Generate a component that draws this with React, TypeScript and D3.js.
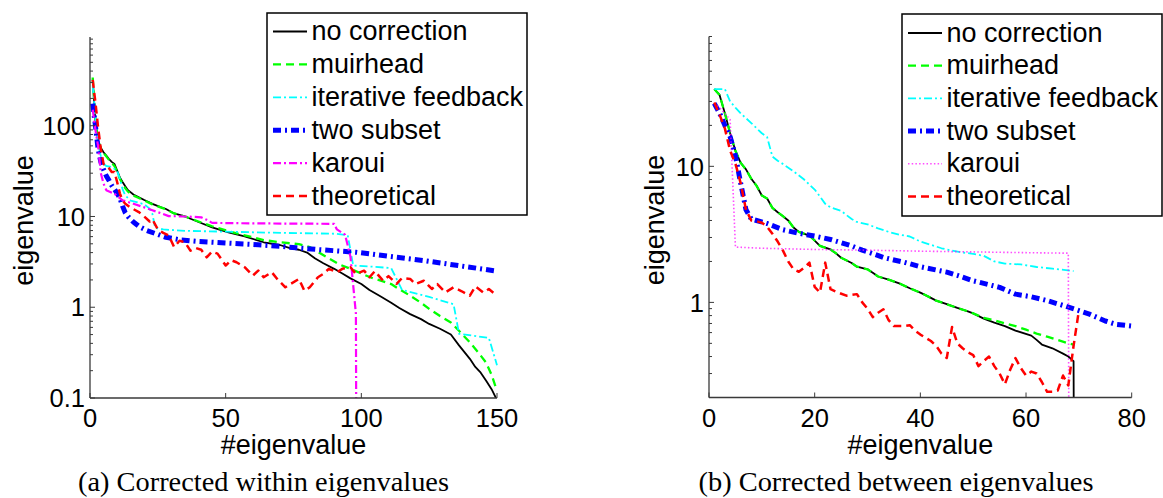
import * as d3 from "d3";

type Pt = [number, number];

const legendLabels = ["no correction", "muirhead", "iterative feedback", "two subset", "karoui", "theoretical"];

// (a) corrected within eigenvalues: [eigenvalue index, eigenvalue]
const withinNoCorrection: Pt[] = [[1,330],[2,110],[3,68],[4,57],[5,51],[6,47],[7,43],[8,40],[9,38],[10,32],[11,27],[12,24],[13,21.5],[14,19.5],[16,17.5],[18,16.3],[20,15.2],[23,13.8],[26,12.7],[28,12.1],[31,10.8],[35,10],[40,8.7],[45,7.6],[51,6.7],[57,6.05],[64,5.2],[70,4.85],[74,4.45],[77,4.3],[80,4.0],[83,3.45],[86,3.05],[90,2.65],[93,2.35],[96,2.08],[100,1.8],[103,1.55],[107,1.32],[111,1.12],[114,0.98],[118,0.84],[122,0.74],[125,0.655],[129,0.58],[133,0.5],[136,0.38],[138,0.32],[140,0.27],[142,0.22],[144,0.19],[146,0.155],[148,0.125],[150,0.095]];
const withinMuirhead: Pt[] = [[1,340],[2,115],[3,68],[4,56],[5,50],[6,46],[7,42],[8,39],[9,36],[10,31],[11,26],[12,23],[13,20.5],[14,18.8],[16,17],[18,16],[20,15],[23,13.6],[26,12.6],[28,12],[31,10.8],[35,10],[40,8.8],[45,7.8],[51,6.9],[57,6.2],[64,5.5],[70,5.2],[77,4.95],[81,4.6],[85,3.9],[88,3.45],[92,2.95],[96,2.65],[100,2.35],[104,2.1],[108,1.93],[111,1.8],[114,1.58],[118,1.34],[122,1.12],[125,0.96],[129,0.8],[133,0.68],[136,0.55],[140,0.41],[143,0.32],[146,0.245],[148,0.18],[150,0.12]];
const withinIterative: Pt[] = [[1,280],[2,120],[3,62],[4,46],[5,38],[6,36],[8,35],[10,32],[11,26],[12,20],[13,17],[15,15],[18,14.2],[20,13.6],[22,12.2],[23,10.7],[24,7.5],[27,7.2],[35,6.95],[50,6.8],[65,6.65],[77,6.55],[91,6.45],[95,6.2],[97,2.88],[104,2.8],[111,2.7],[115,1.55],[125,1.3],[134,1.08],[136,0.51],[147,0.46],[150,0.23]];
const withinTwoSubset: Pt[] = [[1,175],[2,100],[3,55],[4,40],[5,33],[6,28],[7,25],[8,22],[9,20],[10,18],[11,16],[12,13],[13,11],[14,10],[16,8.7],[18,7.8],[21,7.0],[24,6.5],[28,5.9],[33,5.55],[40,5.3],[45,5.2],[55,5.0],[62,4.88],[70,4.7],[76,4.52],[85,4.3],[98,4.04],[110,3.65],[123,3.27],[135,2.9],[150,2.5]];
const withinKaroui: Pt[] = [[1,150],[2,90],[3,59],[4,30],[5,23],[6,19.5],[9,17.8],[12,15.1],[16,13.8],[20,12.6],[23,11.7],[26,10.9],[29,10.1],[35,10],[41,9.8],[43,9.2],[45,8.5],[60,8.4],[90,8.3],[91,7.2],[94,6.3],[96,3.6],[98,0.85],[99,1e-10]];
const withinTheoretical: Pt[] = [[1,320],[2,180],[3,95],[4,55],[5,38],[6,36],[7,34],[8,31],[9,31],[10,24],[11,18],[12,15],[13,13.8],[15,12.5],[18,11.2],[20,10],[22,8.8],[23,9.3],[25,7.2],[27,6.6],[29,6.2],[31,4.6],[33,5.4],[35,5.2],[37,4.2],[39,4.5],[41,4.3],[43,3.55],[45,4.1],[47,3.9],[50,2.88],[52,3.3],[54,3.13],[57,2.76],[60,2.23],[62,2.53],[64,2.14],[67,2.43],[69,2.05],[72,1.66],[74,1.81],[77,2.05],[79,1.52],[81,1.66],[84,2.14],[86,2.33],[88,2.65],[91,2.43],[93,2.65],[96,2.76],[98,2.33],[101,2.53],[103,2.14],[105,2.5],[108,1.96],[110,2.2],[113,1.81],[115,2.1],[118,2.05],[120,1.8],[123,1.96],[126,1.59],[128,1.8],[131,1.46],[134,1.66],[137,1.5],[140,1.34],[142,1.7],[145,1.45],[147,1.59],[150,1.34]];

// (b) corrected between eigenvalues
const betweenNoCorrection: Pt[] = [[1,37],[2,33.5],[3,24.6],[4,17.5],[5,13],[6,10.6],[7,9.5],[8,8.1],[9,7.2],[10,6.1],[11,5.8],[12,4.95],[13,4.6],[14,4.3],[15,4.0],[16,3.55],[17,3.3],[19,3.1],[20,2.85],[21,2.6],[23,2.45],[24,2.3],[25,2.13],[27,1.95],[28,1.83],[30,1.75],[31,1.65],[32,1.55],[34,1.47],[36,1.38],[38,1.27],[40,1.18],[42,1.08],[43,1.03],[45,0.97],[47,0.91],[49,0.86],[50,0.83],[52,0.76],[54,0.71],[56,0.67],[58,0.62],[61,0.57],[62,0.53],[63,0.49],[65,0.46],[67,0.42],[68,0.4],[69,0.37],[70,1e-12]];
const betweenMuirhead: Pt[] = [[1,37],[2,33.5],[3,24.6],[4,17.5],[5,13],[6,10.6],[7,9.5],[8,8.1],[9,7.2],[10,6.1],[11,5.8],[12,4.95],[13,4.6],[14,4.3],[15,4.0],[16,3.55],[17,3.3],[19,3.1],[20,2.85],[21,2.6],[23,2.45],[24,2.3],[25,2.13],[27,1.95],[28,1.83],[30,1.75],[31,1.65],[32,1.55],[34,1.47],[36,1.38],[38,1.27],[40,1.18],[42,1.08],[43,1.03],[45,0.97],[47,0.91],[49,0.86],[50,0.83],[52,0.77],[54,0.74],[56,0.7],[58,0.67],[60,0.63],[62,0.59],[64,0.56],[66,0.53],[68,0.5],[69,0.49]];
const betweenIterative: Pt[] = [[1,37],[3,37],[4,30],[5,27],[6,24.5],[8,20.8],[10,17.5],[11,16.4],[12,11.8],[13,11],[14,10.4],[16,9.2],[18,8],[20,6.75],[21,6],[22,5.3],[23,5],[25,4.7],[27,4.1],[28,3.9],[30,3.75],[32,3.5],[34,3.3],[36,3.15],[38,3.05],[40,2.8],[42,2.65],[44,2.5],[46,2.4],[48,2.33],[50,2.27],[52,2.2],[54,2.0],[56,1.93],[59,1.9],[62,1.82],[65,1.77],[69,1.7]];
const betweenTwoSubset: Pt[] = [[1,29],[2,24.6],[3,20],[4,16.5],[5,12],[6,7.5],[7,4.8],[8,4.1],[9,4.0],[11,3.8],[14,3.42],[17,3.22],[20,3.07],[23,2.9],[25,2.75],[27,2.6],[29,2.42],[31,2.28],[33,2.14],[35,2.05],[37,1.97],[40,1.83],[43,1.73],[45,1.67],[47,1.58],[50,1.44],[52,1.38],[55,1.29],[58,1.15],[61,1.1],[64,1.03],[67,0.95],[70,0.87],[72,0.82],[75,0.73],[77,0.69],[80,0.67]];
const betweenKaroui: Pt[] = [[1,29],[2,27],[3,24.5],[4,22],[5,2.55],[10,2.5],[20,2.45],[30,2.42],[40,2.38],[50,2.35],[60,2.32],[68,2.3],[69,1e-12]];
const betweenTheoretical: Pt[] = [[1,29.4],[2,24],[3,19],[4,13],[5,10.5],[6,7.5],[7,4.8],[8,4.0],[9,3.95],[10,3.85],[11,3.6],[12,3.2],[13,2.8],[14,2.4],[15,2.0],[16,1.75],[17,1.68],[18,1.8],[19,1.96],[20,1.3],[21,1.18],[22,1.96],[23,1.25],[24,1.2],[26,1.12],[28,1.15],[29,1.0],[30,0.9],[31,0.78],[32,0.84],[33,0.89],[34,0.74],[35,0.67],[37,0.67],[38,0.68],[39,0.62],[40,0.58],[41,0.55],[42,0.52],[43,0.48],[44,0.42],[45,0.39],[46,0.66],[47,0.5],[48,0.46],[49,0.43],[50,0.41],[51,0.34],[52,0.37],[53,0.4],[54,0.34],[55,0.3],[56,0.25],[57,0.32],[58,0.39],[59,0.33],[60,0.29],[61,0.31],[62,0.3],[63,0.26],[64,0.22],[65,0.22],[66,0.225],[67,0.29],[68,0.245],[69,0.48],[70,0.87]];

const withinXTicks = [0, 50, 100, 150];
const betweenXTicks = [0, 20, 40, 60, 80];
const withinYLabels = [0.1, 1, 10, 100];
const betweenYLabels = [1, 10];

type Style = { color: string; width: number; dash: string; opacity?: number };

const baseStyles: Style[] = [
  { color: "#000000", width: 1.8, dash: "none" },
  { color: "#00ff00", width: 2.3, dash: "8,5" },
  { color: "#00ffff", width: 1.8, dash: "8,3,2,3" },
  { color: "#0000ff", width: 5, dash: "8,4,2,4" },
  { color: "#ff00ff", width: 2.2, dash: "8,3,2,3" },
  { color: "#ff0000", width: 2.5, dash: "8,5" },
];
const karouiDotted: Style = { color: "#ff00ff", width: 1.6, dash: "1.5,2.2", opacity: 0.7 };

const SANS = "'Liberation Sans', Arial, Helvetica, sans-serif";
const SERIF = "'Liberation Serif', 'Times New Roman', serif";
const AXIS = "#3a3a3a";

interface PanelProps {
  id: string;
  left: number; right: number; top: number; bottom: number;
  xDomain: [number, number]; yDomain: [number, number];
  xTicks: number[]; yLabels: number[];
  series: Pt[][]; styles: Style[];
  legend: { x: number; y: number; w: number; h: number; row0: number; step: number };
  yLabelX: number;
  caption: string; captionX: number; captionWidth: number;
}

function Panel(p: PanelProps) {
  const x = d3.scaleLinear().domain(p.xDomain).range([p.left, p.right]);
  const y = d3.scaleLog().domain(p.yDomain).range([p.bottom, p.top]);
  const line = d3.line<Pt>().x(d => x(d[0])).y(d => y(d[1]));
  const yMinor = y.ticks().filter(t => t >= p.yDomain[0] && t <= p.yDomain[1]);
  const isMajor = (t: number) => Math.abs(Math.log10(t) - Math.round(Math.log10(t))) < 1e-9;
  const cx = (p.left + p.right) / 2;
  const cy = (p.top + p.bottom) / 2 + 3;
  const lg = p.legend;
  return (
    <g>
      <defs>
        <clipPath id={p.id}>
          <rect x={p.left} y={p.top - 4} width={p.right - p.left + 4} height={p.bottom - p.top + 4} />
        </clipPath>
      </defs>
      <g clipPath={`url(#${p.id})`}>
        {p.series.map((s, i) => (
          <path key={i} d={line(s) ?? ""} fill="none" stroke={p.styles[i].color}
            strokeWidth={p.styles[i].width} strokeDasharray={p.styles[i].dash}
            strokeOpacity={p.styles[i].opacity ?? 1} strokeLinejoin="round" />
        ))}
      </g>
      {/* axes */}
      <line x1={p.left} x2={p.left} y1={p.top} y2={p.bottom} stroke={AXIS} strokeWidth={1.3} />
      <line x1={p.left} x2={p.right} y1={p.bottom} y2={p.bottom} stroke={AXIS} strokeWidth={1.3} />
      {yMinor.map(t => (
        <line key={`yt${t}`} x1={p.left} x2={p.left + (isMajor(t) ? 5 : 3)} y1={y(t)} y2={y(t)} stroke={AXIS} strokeWidth={1} />
      ))}
      {p.xTicks.map(t => (
        <line key={`xt${t}`} x1={x(t)} x2={x(t)} y1={p.bottom} y2={p.bottom - 5} stroke={AXIS} strokeWidth={1} />
      ))}
      {p.yLabels.map(t => (
        <text key={`yl${t}`} x={p.left - 5} y={y(t)} dy="0.36em" textAnchor="end"
          fontFamily={SANS} fontSize={25.5} fill="#000">{t}</text>
      ))}
      {p.xTicks.map(t => (
        <text key={`xl${t}`} x={x(t)} y={427} textAnchor="middle"
          fontFamily={SANS} fontSize={25.5} fill="#000">{t}</text>
      ))}
      <text x={cx} y={454} textAnchor="middle" fontFamily={SANS} fontSize={27}>#eigenvalue</text>
      <text transform={`translate(${p.yLabelX},${cy}) rotate(-90)`} textAnchor="middle"
        fontFamily={SANS} fontSize={27}>eigenvalue</text>
      {/* legend */}
      <rect x={lg.x} y={lg.y} width={lg.w} height={lg.h} fill="#fff" stroke="#000" strokeWidth={1.5} />
      {legendLabels.map((name, i) => {
        const ry = lg.row0 + i * lg.step;
        const st = p.styles[i];
        return (
          <g key={name}>
            <line x1={lg.x + 6} x2={lg.x + 40} y1={ry} y2={ry} stroke={st.color}
              strokeWidth={st.width} strokeDasharray={st.dash} strokeOpacity={st.opacity ?? 1} />
            <text x={lg.x + 44.5} y={ry + 8.5} fontFamily={SANS} fontSize={27}>{name}</text>
          </g>
        );
      })}
      <text x={p.captionX} y={491} textAnchor="middle" fontFamily={SERIF} fontSize={28}
        textLength={p.captionWidth} lengthAdjust="spacingAndGlyphs">{p.caption}</text>
    </g>
  );
}

export default function App() {
  const withinStyles = baseStyles;
  const betweenStyles = baseStyles.map((s, i) => (i === 4 ? karouiDotted : s));
  return (
    <svg width={1163} height={498} style={{ position: "absolute", left: 0, top: 0, background: "#fff" }}>
      <Panel id="clipA" left={90} right={497} top={37} bottom={398}
        xDomain={[0, 150]} yDomain={[0.1, 950]} xTicks={withinXTicks} yLabels={withinYLabels}
        series={[withinNoCorrection, withinMuirhead, withinIterative, withinTwoSubset, withinKaroui, withinTheoretical]}
        styles={withinStyles}
        legend={{ x: 267, y: 13, w: 260, h: 202, row0: 31.5, step: 32.9 }}
        yLabelX={33} caption="(a) Corrected within eigenvalues" captionX={263.5} captionWidth={371} />
      <Panel id="clipB" left={709} right={1131.7} top={36.5} bottom={397.5}
        xDomain={[0, 80]} yDomain={[0.2, 90]} xTicks={betweenXTicks} yLabels={betweenYLabels}
        series={[betweenNoCorrection, betweenMuirhead, betweenIterative, betweenTwoSubset, betweenKaroui, betweenTheoretical]}
        styles={betweenStyles}
        legend={{ x: 902, y: 14, w: 260, h: 202, row0: 33, step: 32.7 }}
        yLabelX={664} caption="(b) Corrected between eigenvalues" captionX={896} captionWidth={395} />
    </svg>
  );
}
